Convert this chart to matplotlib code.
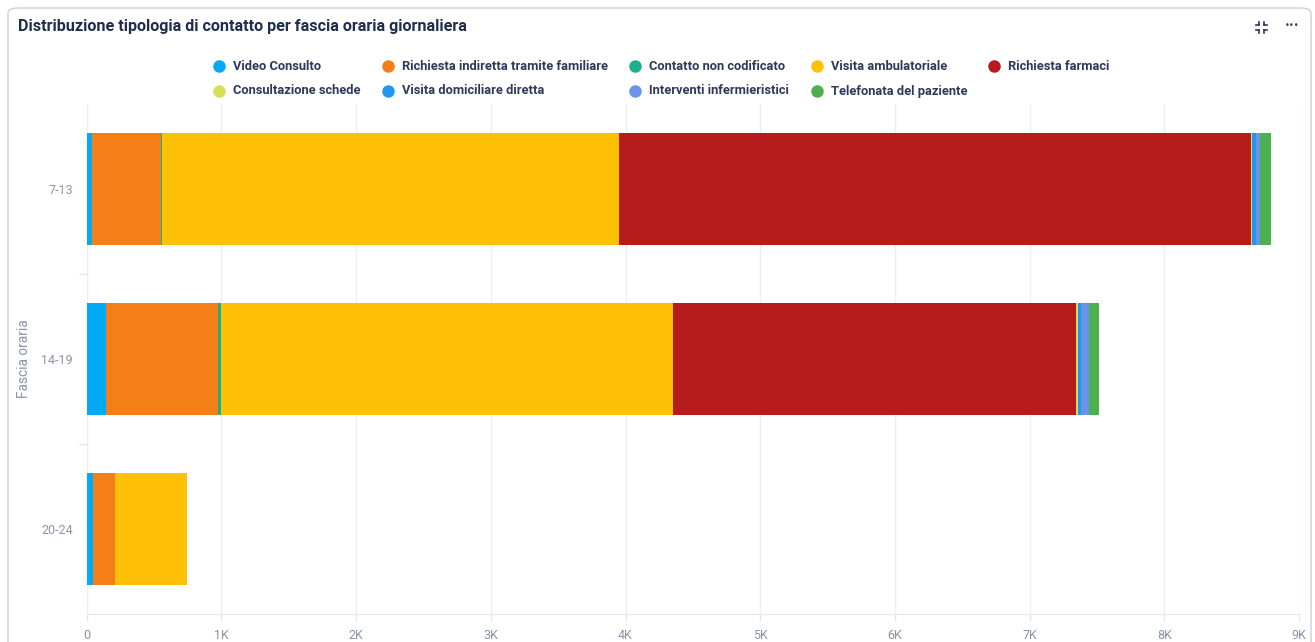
import matplotlib.pyplot as plt
import numpy as np
from matplotlib.lines import Line2D
from matplotlib.patches import FancyBboxPatch
from matplotlib.ticker import FuncFormatter, FixedLocator

plt.rcParams['font.family'] = ['Roboto', 'DejaVu Sans']

fasce = ['7-13', '14-19', '20-24']

tipologie = ['Video Consulto', 'Richiesta indiretta tramite familiare',
             'Contatto non codificato', 'Visita ambulatoriale', 'Richiesta farmaci',
             'Consultazione schede', 'Visita domiciliare diretta',
             'Interventi infermieristici', 'Telefonata del paziente']

colori = ['#03A9F4', '#F47F17', '#1DB08E', '#FFC107', '#B71C1C',
          '#D4E157', '#2196F3', '#6B93E8', '#4CAF50']

# contatti per fascia oraria (7-13, 14-19, 20-24)
video_consulto = [42, 143, 49]
richiesta_indiretta = [510, 829, 159]
contatto_non_codificato = [5, 25, 0]
visita_ambulatoriale = [3397, 3353, 539]
richiesta_farmaci = [4688, 2992, 0]
consultazione_schede = [12, 20, 0]
visita_domiciliare = [25, 18, 0]
interventi_infermieristici = [35, 61, 0]
telefonata_paziente = [80, 77, 0]

serie = [video_consulto, richiesta_indiretta, contatto_non_codificato,
         visita_ambulatoriale, richiesta_farmaci, consultazione_schede,
         visita_domiciliare, interventi_infermieristici, telefonata_paziente]

W, H = 1315, 642
fig = plt.figure(figsize=(W / 100, H / 100), dpi=100)


def fx(x):
    return x / W


def fy(y):
    return 1 - y / H


# card
card = FancyBboxPatch((fx(8), fy(700)), fx(1303), fy(8) - fy(700),
                      boxstyle='round,pad=0,rounding_size=0.008',
                      transform=fig.transFigure, facecolor='white',
                      edgecolor='#C9D0DC', linewidth=1.0, zorder=-5)
fig.patches.append(card)

fig.text(fx(18), fy(27), 'Distribuzione tipologia di contatto per fascia oraria giornaliera',
         fontsize=11.6, fontweight='bold', color='#1F2D4E', va='center', ha='left')

# icone in alto a destra
ic_x, ic_y, s = 1261, 27, 3
for dx, dy in [(-1, -1), (1, -1), (-1, 1), (1, 1)]:
    cx, cy = ic_x + dx * 2.5, ic_y + dy * 2.5
    fig.add_artist(Line2D([fx(cx), fx(cx + dx * s)], [fy(cy), fy(cy)],
                          transform=fig.transFigure, color='#2D3A5A', lw=1.2))
    fig.add_artist(Line2D([fx(cx), fx(cx)], [fy(cy), fy(cy + dy * s)],
                          transform=fig.transFigure, color='#2D3A5A', lw=1.2))
fig.text(fx(1292), fy(25), '•••', fontsize=6, color='#2D3A5A',
         ha='center', va='center', family='DejaVu Sans')

# legenda su due righe
leg_x = [219, 388, 635, 817, 994]
leg_y = [66, 91]
ordine = [[0, 1, 2, 3, 4], [5, 6, 7, 8]]
for r, riga in enumerate(ordine):
    for c, i in enumerate(riga):
        fig.add_artist(Line2D([fx(leg_x[c])], [fy(leg_y[r])], marker='o',
                              markersize=8, color=colori[i], linestyle='none',
                              transform=fig.transFigure))
        fig.text(fx(leg_x[c] + 14), fy(leg_y[r]), tipologie[i], fontsize=9.3,
                 fontweight='bold', color='#2D3A5A', va='center', ha='left')

ax = fig.add_axes([fx(86.7), fy(614), fx(1299) - fx(86.7), fy(104) - fy(614)])
ax.set_zorder(1)
ax.patch.set_alpha(0)

y = np.arange(len(fasce))
left = np.zeros(len(fasce))
for vals, col in zip(serie, colori):
    ax.barh(y, vals, left=left, height=0.66, color=col, linewidth=0, zorder=3)
    left += np.array(vals)

ax.set_xlim(0, 9000)
ax.set_ylim(2.5, -0.5)
ax.set_xticks(np.arange(0, 9001, 1000))
ax.xaxis.set_major_formatter(FuncFormatter(lambda v, p: '0' if v == 0 else f'{int(v / 1000)}K'))
ax.set_yticks(y)
ax.set_yticklabels(fasce)
ax.yaxis.set_minor_locator(FixedLocator([0.5, 1.5]))

ax.grid(axis='x', color='#ECEFF4', linewidth=1, zorder=0)
for sp in ['top', 'right', 'left']:
    ax.spines[sp].set_visible(False)
ax.spines['bottom'].set_color('#E3E8F0')
ax.tick_params(axis='x', colors='#E3E8F0', length=5, width=1, labelcolor='#8A94A6',
               labelsize=9, pad=6)
ax.tick_params(axis='y', which='major', length=0, labelcolor='#8A94A6', labelsize=9, pad=10)
ax.tick_params(axis='y', which='minor', length=6, color='#E3E8F0', width=1)

ax.set_ylabel('Fascia oraria', color='#8A94A6', fontsize=9.8)
ax.yaxis.set_label_coords(-0.046, 0.5)

fig.savefig('out.png', dpi=100)
